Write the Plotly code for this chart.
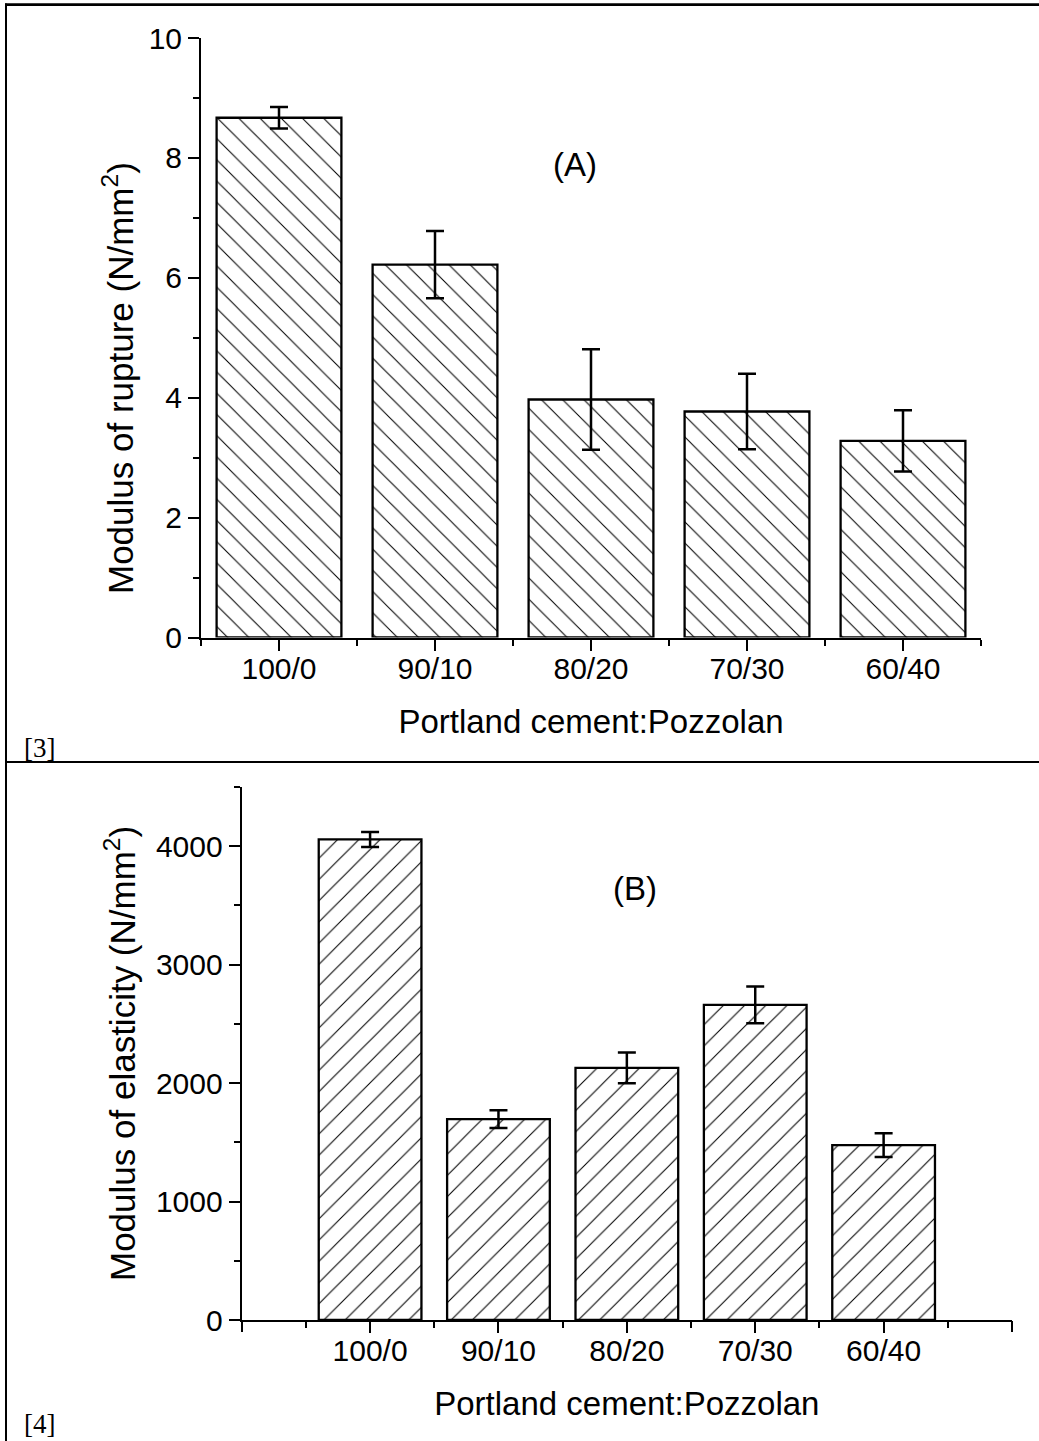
import plotly.graph_objects as go

W, H = 1039, 1441

# ---------------- data ----------------
categories = ["100/0", "90/10", "80/20", "70/30", "60/40"]
rupture = [8.67, 6.22, 3.97, 3.77, 3.28]
rupture_err = [0.18, 0.56, 0.84, 0.63, 0.51]
elasticity = [4057, 1696, 2129, 2661, 1477]
elasticity_err = [63, 75, 130, 155, 100]
rupture_ticks = [0, 2, 4, 6, 8, 10]
elasticity_ticks = [0, 1000, 2000, 3000, 4000]
panel_labels = ["(A)", "(B)"]
ref_labels = ["[3]", "[4]"]
x_title = "Portland cement:Pozzolan"
y_titles = ["Modulus of rupture (N/mm<sup>2</sup>)", "Modulus of elasticity (N/mm<sup>2</sup>)"]

x_pos = list(range(1, len(categories) + 1))

FONT = "Arial, 'Liberation Sans', sans-serif"
SERIF = "'Times New Roman', 'Liberation Serif', serif"
TICK_SIZE = 30
TITLE_SIZE = 33
YTITLE_SIZE = 35


def px_x(p):
    return p / W


def px_y(p):
    return 1 - p / H


fig = go.Figure()

fig.add_trace(go.Bar(
    x=x_pos, y=rupture, width=0.8,
    error_y=dict(type="data", array=rupture_err, color="black", thickness=2.5, width=9),
    marker=dict(color="white", line=dict(color="black", width=2.3),
                pattern=dict(shape="\\", fgcolor="black", bgcolor="white", size=15, solidity=0.07)),
    xaxis="x", yaxis="y", showlegend=False,
))

fig.add_trace(go.Bar(
    x=x_pos, y=elasticity, width=0.8,
    error_y=dict(type="data", array=elasticity_err, color="black", thickness=2.5, width=9),
    marker=dict(color="white", line=dict(color="black", width=2.3),
                pattern=dict(shape="/", fgcolor="black", bgcolor="white", size=15, solidity=0.07)),
    xaxis="x2", yaxis="y2", showlegend=False,
))

tick_common = dict(ticks="outside", ticklen=11, tickwidth=2, tickcolor="black")
minor_common = dict(ticks="outside", ticklen=6, tickwidth=2, tickcolor="black")
axis_common = dict(
    showline=True, linecolor="black", linewidth=2, showgrid=False, zeroline=False,
    tickfont=dict(family=FONT, size=TICK_SIZE, color="black"), automargin=False, **tick_common,
)
title_font = dict(family=FONT, size=TITLE_SIZE, color="black")

top_dom_x = [px_x(201), px_x(981)]
bot_dom_x = [px_x(241.7), px_x(1012)]
bot_dom_y = [px_y(1320), px_y(787)]
n = len(categories)

fig.update_layout(
    xaxis=dict(
        **axis_common, domain=top_dom_x, anchor="y",
        range=[0.5, n + 0.5],
        tickmode="array", tickvals=x_pos, ticktext=categories, ticklabelstandoff=-8,
        minor=dict(tickvals=[x - 0.5 for x in x_pos] + [n + 0.5], **minor_common),
        title=dict(text=x_title, font=title_font, standoff=26),
    ),
    yaxis=dict(
        **axis_common, domain=[px_y(637.5), px_y(38)], anchor="x",
        range=[0, 10], tickmode="array", tickvals=rupture_ticks,
        minor=dict(tickvals=[1, 3, 5, 7, 9], **minor_common),
    ),
    xaxis2=dict(
        **axis_common, domain=bot_dom_x, anchor="y2",
        range=[0, n + 1],
        tickmode="array", tickvals=x_pos, ticktext=categories, ticklabelstandoff=-8,
        minor=dict(tickvals=[x - 0.5 for x in x_pos] + [n + 0.5], **minor_common),
        title=dict(text=x_title, font=title_font, standoff=26),
    ),
    # unlabeled major ticks at both ends of the lower category axis
    xaxis3=dict(
        domain=bot_dom_x, anchor="y2", overlaying="x2", range=[0, n + 1],
        showline=False, showgrid=False, zeroline=False, showticklabels=False,
        tickmode="array", tickvals=[0, n + 1], automargin=False, **tick_common,
    ),
    yaxis2=dict(
        **axis_common, domain=bot_dom_y, anchor="x2",
        range=[0, 4500], tickmode="array", tickvals=elasticity_ticks,
        minor=dict(tickvals=[500, 1500, 2500, 3500, 4500], **minor_common),
    ),
)

# invisible helper trace so xaxis3 is drawn
fig.add_trace(go.Scatter(x=[0, n + 1], y=[None, None], xaxis="x3", yaxis="y2",
                         mode="lines", showlegend=False, hoverinfo="skip"))

annotations = [
    dict(text=y_titles[0], x=px_x(118), y=px_y(378), xref="paper", yref="paper",
         xanchor="center", yanchor="middle",
         textangle=-90, showarrow=False, font=dict(family=FONT, size=YTITLE_SIZE, color="black")),
    dict(text=y_titles[1], x=px_x(120), y=px_y(1054), xref="paper", yref="paper",
         xanchor="center", yanchor="middle",
         textangle=-90, showarrow=False, font=dict(family=FONT, size=YTITLE_SIZE, color="black")),
    dict(text=panel_labels[0], x=px_x(575), y=px_y(165), xref="paper", yref="paper",
         xanchor="center", yanchor="middle", showarrow=False, font=title_font),
    dict(text=panel_labels[1], x=px_x(635), y=px_y(888), xref="paper", yref="paper",
         xanchor="center", yanchor="middle", showarrow=False, font=title_font),
    dict(text=ref_labels[0], x=px_x(22), y=px_y(765), xref="paper", yref="paper",
         xanchor="left", yanchor="bottom", showarrow=False,
         font=dict(family=SERIF, size=27, color="black")),
    dict(text=ref_labels[1], x=px_x(22), y=0, xref="paper", yref="paper",
         xanchor="left", yanchor="bottom", showarrow=False,
         font=dict(family=SERIF, size=27, color="black")),
]

shapes = [
    dict(type="line", xref="paper", yref="paper", x0=px_x(5), x1=1, y0=px_y(4.7), y1=px_y(4.7),
         line=dict(color="black", width=2.7)),
    dict(type="line", xref="paper", yref="paper", x0=px_x(5), x1=1, y0=px_y(762), y1=px_y(762),
         line=dict(color="black", width=2)),
    dict(type="line", xref="paper", yref="paper", x0=px_x(6), x1=px_x(6), y0=0, y1=px_y(3.5),
         line=dict(color="black", width=2)),
]

fig.update_layout(
    width=W, height=H, margin=dict(l=0, r=0, t=0, b=0),
    paper_bgcolor="white", plot_bgcolor="white", template="none",
    annotations=annotations, shapes=shapes, bargap=0.2,
    font=dict(family=FONT, color="black"),
)

fig.write_html("out.html", config={"displayModeBar": False},
               post_script="document.body.style.margin='0px';")
